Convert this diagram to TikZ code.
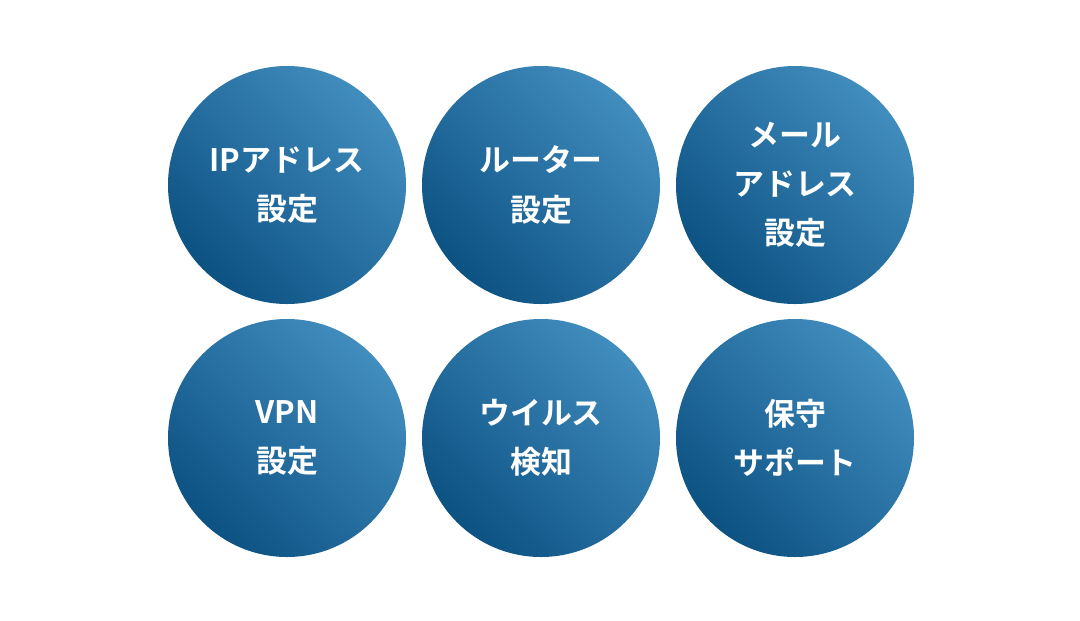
\documentclass[tikz,border=0pt]{standalone}
\usepackage{fontspec}
\newfontfamily\jp{Noto Sans CJK JP Bold}
\definecolor{cdark}{HTML}{0C5283}
\definecolor{clight}{HTML}{418DBE}
\begin{document}
\begin{tikzpicture}[x=0.025cm,y=-0.025cm]
\tikzset{bub/.style={circle,minimum size=238*0.025cm,inner sep=0pt,left color=clight,right color=cdark,shading angle=-45,text=white,align=center,font=\jp\fontsize{22}{35}\selectfont}}
\useasboundingbox (0,0) rectangle (1080,620);
\node[bub] (a) at (287,185) {IPアドレス\\設定};
\node[bub] (b) at (541,185) {ルーター\\設定};
\node[bub] (c) at (795,185) {メール\\アドレス\\設定};
\node[bub] (d) at (287,438) {VPN\\設定};
\node[bub] (e) at (541,438) {ウイルス\\検知};
\node[bub] (f) at (795,438) {保守\\サポート};
\end{tikzpicture}
\end{document}
